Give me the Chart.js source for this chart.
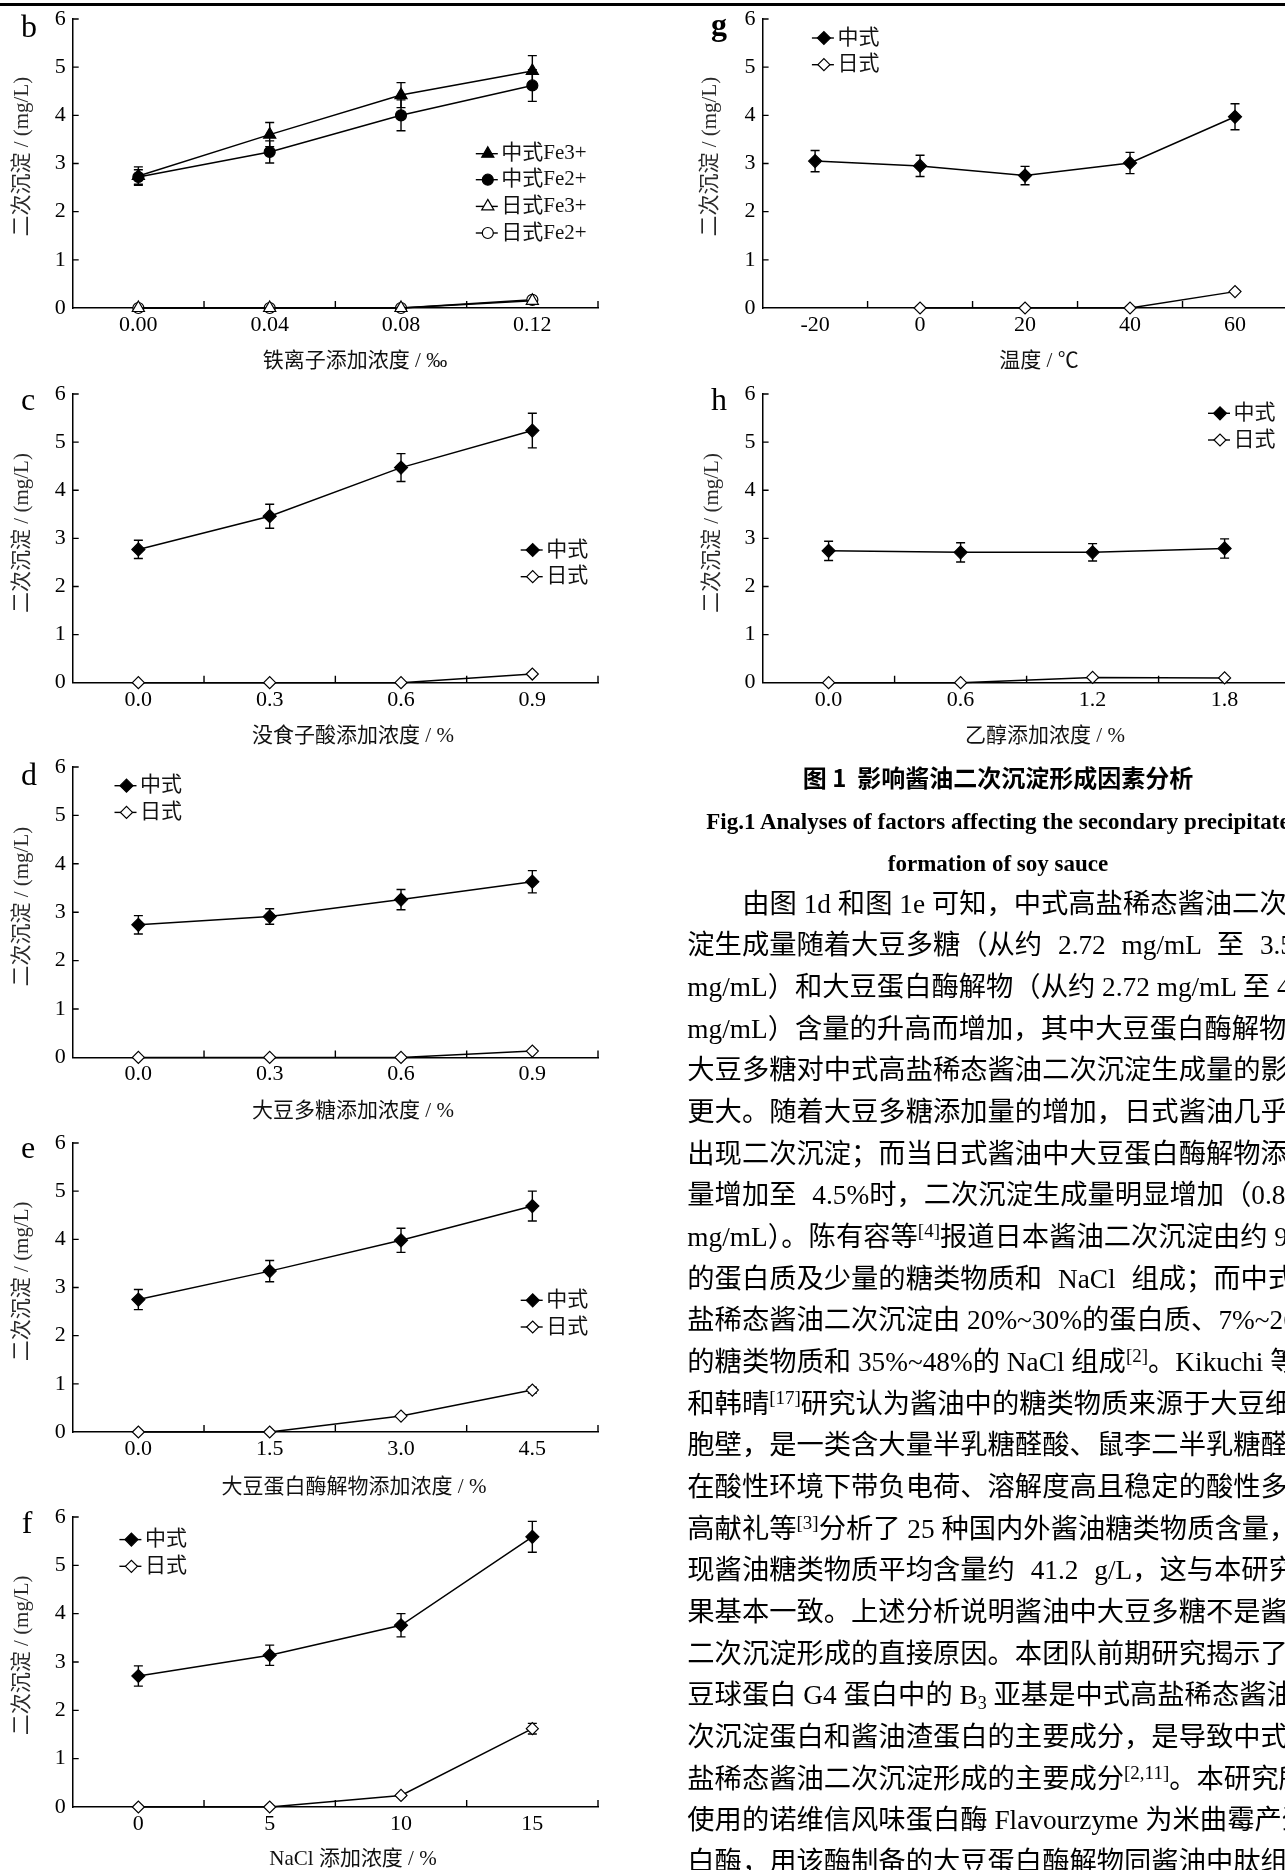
<!DOCTYPE html>
<html><head><meta charset="utf-8">
<script src="https://cdn.jsdelivr.net/npm/chart.js@4.4.0/dist/chart.umd.min.js"></script>
<style>
html,body{margin:0;padding:0;background:#fff;width:1285px;height:1870px;overflow:hidden;position:relative;}
canvas{position:absolute;}
.rule{position:absolute;left:0;top:3px;width:1285px;height:3px;background:#000;}
.tl{position:absolute;left:687.3px;white-space:nowrap;font-family:'Liberation Serif','Noto Sans CJK SC',serif;font-size:27.3px;line-height:41.67px;color:#000;}
.tl sup{font-size:19px;line-height:0;vertical-align:0.5em;}
.tl sub{font-size:18px;line-height:0;vertical-align:-0.3em;}
.cap{position:absolute;left:598px;width:800px;text-align:center;white-space:nowrap;color:#000;}
.cn{font-family:'Noto Sans CJK SC',sans-serif;font-size:24px;line-height:40px;font-weight:bold;}
.en{font-family:'Liberation Serif',serif;font-weight:bold;font-size:23px;line-height:40px;}
</style></head><body>
<div class="rule"></div>
<div id="charts"></div>

<div class="cap cn" style="top:757px;">图 1&nbsp;&nbsp;影响酱油二次沉淀形成因素分析</div>
<div class="cap en" style="top:802px;">Fig.1 Analyses of factors affecting the secondary precipitate</div>
<div class="cap en" style="top:843.6px;">formation of soy sauce</div>

<div class="tl" style="top:883.6px;left:742.3px;">由图 1d 和图 1e 可知，中式高盐稀态酱油二次沉</div>
<div class="tl" style="top:925.3px;word-spacing:9px;">淀生成量随着大豆多糖（从约 2.72 mg/mL 至 3.56</div>
<div class="tl" style="top:966.9px;">mg/mL）和大豆蛋白酶解物（从约 2.72 mg/mL 至 4.69</div>
<div class="tl" style="top:1008.6px;">mg/mL）含量的升高而增加，其中大豆蛋白酶解物比</div>
<div class="tl" style="top:1050.3px;">大豆多糖对中式高盐稀态酱油二次沉淀生成量的影响</div>
<div class="tl" style="top:1091.9px;">更大。随着大豆多糖添加量的增加，日式酱油几乎未</div>
<div class="tl" style="top:1133.6px;">出现二次沉淀；而当日式酱油中大豆蛋白酶解物添加</div>
<div class="tl" style="top:1175.3px;word-spacing:9px;">量增加至 4.5%时，二次沉淀生成量明显增加（0.87</div>
<div class="tl" style="top:1216.9px;">mg/mL）。陈有容等<sup>[4]</sup>报道日本酱油二次沉淀由约 90%</div>
<div class="tl" style="top:1258.6px;word-spacing:9px;">的蛋白质及少量的糖类物质和 NaCl 组成；而中式高</div>
<div class="tl" style="top:1300.3px;">盐稀态酱油二次沉淀由 20%~30%的蛋白质、7%~26%</div>
<div class="tl" style="top:1341.9px;">的糖类物质和 35%~48%的 NaCl 组成<sup>[2]</sup>。Kikuchi 等<sup>[16]</sup></div>
<div class="tl" style="top:1383.6px;">和韩晴<sup>[17]</sup>研究认为酱油中的糖类物质来源于大豆细</div>
<div class="tl" style="top:1425.3px;">胞壁，是一类含大量半乳糖醛酸、鼠李二半乳糖醛酸</div>
<div class="tl" style="top:1466.9px;">在酸性环境下带负电荷、溶解度高且稳定的酸性多糖。</div>
<div class="tl" style="top:1508.6px;">高献礼等<sup>[3]</sup>分析了 25 种国内外酱油糖类物质含量，发</div>
<div class="tl" style="top:1550.3px;word-spacing:9px;">现酱油糖类物质平均含量约 41.2 g/L，这与本研究结</div>
<div class="tl" style="top:1591.9px;">果基本一致。上述分析说明酱油中大豆多糖不是酱油</div>
<div class="tl" style="top:1633.6px;">二次沉淀形成的直接原因。本团队前期研究揭示了大</div>
<div class="tl" style="top:1675.3px;">豆球蛋白 G4 蛋白中的 B<sub>3</sub> 亚基是中式高盐稀态酱油二</div>
<div class="tl" style="top:1716.9px;">次沉淀蛋白和酱油渣蛋白的主要成分，是导致中式高</div>
<div class="tl" style="top:1758.6px;">盐稀态酱油二次沉淀形成的主要成分<sup>[2,11]</sup>。本研究所</div>
<div class="tl" style="top:1800.3px;">使用的诺维信风味蛋白酶 Flavourzyme 为米曲霉产蛋</div>
<div class="tl" style="top:1841.9px;">白酶，用该酶制备的大豆蛋白酶解物同酱油中肽组成</div>

<script>
// ---------------- DATA ----------------
const yTicks = [0, 1, 2, 3, 4, 5, 6];
const yAxisTitle = '二次沉淀 / (mg/L)';

const catsB = ['0.00', '0.04', '0.08', '0.12'];
const bChinaFe3 = [2.74, 3.60, 4.42, 4.92];
const bChinaFe3Err = [0.19, 0.25, 0.26, 0.32];
const bChinaFe2 = [2.72, 3.24, 4.00, 4.62];
const bChinaFe2Err = [0.15, 0.23, 0.32, 0.33];
const bJapanFe3 = [0, 0, 0, 0.15];
const bJapanFe2 = [0, 0, 0, 0.17];

const catsC = ['0.0', '0.3', '0.6', '0.9'];
const cChina = [2.77, 3.46, 4.47, 5.24];
const cChinaErr = [0.19, 0.25, 0.29, 0.36];
const cJapan = [0, 0, 0, 0.18];

const catsD = ['0.0', '0.3', '0.6', '0.9'];
const dChina = [2.74, 2.91, 3.26, 3.63];
const dChinaErr = [0.19, 0.16, 0.21, 0.23];
const dJapan = [0, 0, 0, 0.13];

const catsE = ['0.0', '1.5', '3.0', '4.5'];
const eChina = [2.75, 3.34, 3.98, 4.69];
const eChinaErr = [0.21, 0.22, 0.25, 0.31];
const eJapan = [0, 0, 0.33, 0.87];
const eJapanErr = [0, 0, 0.03, 0.06];

const catsF = ['0', '5', '10', '15'];
const fChina = [2.71, 3.14, 3.76, 5.59];
const fChinaErr = [0.21, 0.21, 0.24, 0.32];
const fJapan = [0, 0, 0.24, 1.62];
const fJapanErr = [0, 0, 0.03, 0.11];

const catsG = ['-20', '0', '20', '40', '60'];
const gChina = [3.05, 2.95, 2.75, 3.01, 3.97];
const gChinaErr = [0.22, 0.22, 0.19, 0.22, 0.27];
const gJapan = [null, 0, 0, 0, 0.34];

const catsH = ['0.0', '0.6', '1.2', '1.8'];
const hChina = [2.74, 2.71, 2.71, 2.79];
const hChinaErr = [0.20, 0.20, 0.18, 0.20];
const hJapan = [0, 0, 0.11, 0.10];

// ---------------- STYLES / LAYOUT ----------------
const FONT = "'Liberation Serif','Noto Sans CJK SC',serif";
const MK = {
  triF: {style: 'triangle', r: 7, fill: '#000'},
  cirF: {style: 'circle', r: 5.5, fill: '#000'},
  triO: {style: 'triangle', r: 7, fill: '#fff'},
  cirO: {style: 'circle', r: 5.5, fill: '#fff'},
  diaF: {style: 'diamond', r: 6.5, fill: '#000'},
  diaO: {style: 'diamond', r: 6, fill: '#fff'}
};

const panels = [
  {cx: 0, L: 72.7, T: 19.3, R: 598, B: 308.3, cats: catsB,
   series: [
     {label: '中式Fe3+', data: bChinaFe3, err: bChinaFe3Err, mk: MK.triF},
     {label: '中式Fe2+', data: bChinaFe2, err: bChinaFe2Err, mk: MK.cirF},
     {label: '日式Fe3+', data: bJapanFe3, err: null, mk: MK.triO},
     {label: '日式Fe2+', data: bJapanFe2, err: null, mk: MK.cirO}],
   legend: {mx: 487.8, ys: [154, 180, 206.7, 233.3]},
   letter: {t: 'b', x: 29, y: 37}, xTitle: {t: '铁离子添加浓度 / ‰', x: 355, y: 362}, yTitle: {x: 22, y: 157}},
  {cx: 0, L: 72.7, T: 394, R: 598, B: 682.7, cats: catsC,
   series: [
     {label: '中式', data: cChina, err: cChinaErr, mk: MK.diaF},
     {label: '日式', data: cJapan, err: null, mk: MK.diaO}],
   legend: {mx: 532.7, ys: [550, 576.7]},
   letter: {t: 'c', x: 28, y: 410}, xTitle: {t: '没食子酸添加浓度 / %', x: 353, y: 736.7}, yTitle: {x: 22, y: 533}},
  {cx: 0, L: 72.7, T: 767.3, R: 598, B: 1057.7, cats: catsD,
   series: [
     {label: '中式', data: dChina, err: dChinaErr, mk: MK.diaF},
     {label: '日式', data: dJapan, err: null, mk: MK.diaO}],
   legend: {mx: 126.5, ys: [786, 812.7]},
   letter: {t: 'd', x: 29, y: 785}, xTitle: {t: '大豆多糖添加浓度 / %', x: 353, y: 1111.7}, yTitle: {x: 22, y: 907}},
  {cx: 0, L: 72.7, T: 1142.7, R: 598, B: 1431.7, cats: catsE,
   series: [
     {label: '中式', data: eChina, err: eChinaErr, mk: MK.diaF},
     {label: '日式', data: eJapan, err: eJapanErr, mk: MK.diaO}],
   legend: {mx: 532.7, ys: [1300, 1326.7]},
   letter: {t: 'e', x: 28, y: 1158}, xTitle: {t: '大豆蛋白酶解物添加浓度 / %', x: 354, y: 1486.7}, yTitle: {x: 22, y: 1281}},
  {cx: 0, L: 72.7, T: 1516.7, R: 598, B: 1806.7, cats: catsF,
   series: [
     {label: '中式', data: fChina, err: fChinaErr, mk: MK.diaF},
     {label: '日式', data: fJapan, err: fJapanErr, mk: MK.diaO}],
   legend: {mx: 131.4, ys: [1539.3, 1566]},
   letter: {t: 'f', x: 27, y: 1533}, xTitle: {t: 'NaCl 添加浓度 / %', x: 353, y: 1859.3}, yTitle: {x: 22, y: 1655}},
  {cx: 695, L: 762.6, T: 19.3, R: 1287.5, B: 308.3, cats: catsG,
   series: [
     {label: '中式', data: gChina, err: gChinaErr, mk: MK.diaF},
     {label: '日式', data: gJapan, err: null, mk: MK.diaO}],
   legend: {mx: 823.9, ys: [38.3, 65]},
   letter: {t: 'g', x: 719, y: 35, bold: true}, xTitle: {t: '温度 / ℃', x: 1039, y: 362}, yTitle: {x: 710, y: 157}},
  {cx: 695, L: 762.6, T: 394, R: 1290.6, B: 682.7, cats: catsH,
   series: [
     {label: '中式', data: hChina, err: hChinaErr, mk: MK.diaF},
     {label: '日式', data: hJapan, err: null, mk: MK.diaO}],
   legend: {mx: 1220, ys: [413.3, 440]},
   letter: {t: 'h', x: 719, y: 410}, xTitle: {t: '乙醇添加浓度 / %', x: 1045, y: 736.7}, yTitle: {x: 712, y: 533}}
];

function drawMarker(ctx, mk, x, y) {
  const r = mk.r;
  ctx.save();
  ctx.beginPath();
  if (mk.style === 'circle') {
    ctx.arc(x, y, r, 0, Math.PI * 2);
  } else if (mk.style === 'triangle') {
    ctx.moveTo(x, y - r);
    ctx.lineTo(x + r * 0.866, y + r * 0.5);
    ctx.lineTo(x - r * 0.866, y + r * 0.5);
  } else {
    ctx.moveTo(x - r, y); ctx.lineTo(x, y - r); ctx.lineTo(x + r, y); ctx.lineTo(x, y + r);
  }
  ctx.closePath();
  ctx.fillStyle = mk.fill; ctx.fill();
  ctx.lineWidth = 1.2; ctx.strokeStyle = '#000'; ctx.stroke();
  ctx.restore();
}

function makeDecor(p, cy) {
  return {
    id: 'decor',
    beforeDatasetsDraw(chart) {
      const ctx = chart.ctx, xs = chart.scales.x, ys = chart.scales.y;
      ctx.save();
      ctx.strokeStyle = '#000'; ctx.lineWidth = 1.4;
      chart.data.datasets.forEach(ds => {
        if (!ds.errors) return;
        ds.data.forEach((v, j) => {
          const e = ds.errors[j];
          if (v == null || !e) return;
          const x = xs.getPixelForValue(j);
          const y1 = ys.getPixelForValue(v + e), y2 = ys.getPixelForValue(v - e);
          ctx.beginPath();
          ctx.moveTo(x, y1); ctx.lineTo(x, y2);
          ctx.moveTo(x - 4.5, y1); ctx.lineTo(x + 4.5, y1);
          ctx.moveTo(x - 4.5, y2); ctx.lineTo(x + 4.5, y2);
          ctx.stroke();
        });
      });
      ctx.restore();
    },
    afterDraw(chart) {
      const ctx = chart.ctx, xs = chart.scales.x, ys = chart.scales.y, a = chart.chartArea;
      const ox = p.cx, oy = cy;
      ctx.save();
      // inward tick marks
      ctx.strokeStyle = '#000'; ctx.lineWidth = 1.4;
      const n = p.cats.length;
      const half = (xs.getPixelForValue(1) - xs.getPixelForValue(0)) / 2;
      ctx.beginPath();
      for (let j = 0; j < n; j++) {
        const px = xs.getPixelForValue(j) + half;
        ctx.moveTo(px, a.bottom); ctx.lineTo(px, a.bottom - 7);
      }
      yTicks.forEach(v => {
        if (v === 0) return;
        const py = ys.getPixelForValue(v);
        ctx.moveTo(a.left, py); ctx.lineTo(a.left + 6, py);
      });
      ctx.stroke();
      // panel letter
      ctx.fillStyle = '#000';
      ctx.textAlign = 'center'; ctx.textBaseline = 'alphabetic';
      ctx.font = (p.letter.bold ? 'bold ' : '') + "32px 'Liberation Serif',serif";
      ctx.fillText(p.letter.t, p.letter.x - ox, p.letter.y - oy);
      // x title
      ctx.font = '21px ' + FONT;
      ctx.textBaseline = 'middle';
      ctx.fillStyle = '#111';
      ctx.fillText(p.xTitle.t, p.xTitle.x - ox, p.xTitle.y - oy);
      // y title
      ctx.save();
      ctx.fillStyle = '#2a2a2a';
      ctx.translate(p.yTitle.x - ox, p.yTitle.y - oy);
      ctx.rotate(-Math.PI / 2);
      ctx.fillText(yAxisTitle, 0, 0);
      ctx.restore();
      // legend
      ctx.textAlign = 'left';
      ctx.font = '21px ' + FONT;
      p.series.forEach((s, i) => {
        const y = p.legend.ys[i] - oy, mx = p.legend.mx - ox;
        ctx.beginPath();
        ctx.lineWidth = 1.4; ctx.strokeStyle = '#000';
        ctx.moveTo(mx - 12, y); ctx.lineTo(mx + 10, y); ctx.stroke();
        drawMarker(ctx, s.mk, mx, y);
        ctx.fillStyle = '#111';
        ctx.fillText(s.label, mx + 13.5, y);
      });
      ctx.restore();
    }
  };
}

const host = document.getElementById('charts');
panels.forEach(p => {
  const cy = p.T - 22;
  const cw = Math.ceil(p.R + 12 - p.cx);
  const ch = Math.ceil(p.B + 74 - cy);
  const cv = document.createElement('canvas');
  cv.width = cw; cv.height = ch;
  cv.style.left = p.cx + 'px'; cv.style.top = cy + 'px';
  cv.style.width = cw + 'px'; cv.style.height = ch + 'px';
  host.appendChild(cv);
  const tickFont = {family: FONT, size: 22, lineHeight: 1.2};
  new Chart(cv.getContext('2d'), {
    type: 'line',
    data: {
      labels: p.cats,
      datasets: p.series.map(s => ({
        label: s.label,
        data: s.data,
        errors: s.err,
        borderColor: '#000',
        borderWidth: 1.5,
        pointStyle: s.mk.style === 'diamond' ? 'rectRot' : s.mk.style,
        pointRadius: s.mk.r,
        pointHoverRadius: s.mk.r,
        pointBackgroundColor: s.mk.fill,
        pointBorderColor: '#000',
        pointBorderWidth: 1.2,
        fill: false,
        tension: 0,
        spanGaps: false,
        clip: false
      }))
    },
    options: {
      responsive: false,
      animation: false,
      devicePixelRatio: 1,
      events: [],
      layout: {padding: {top: p.T - cy, right: p.cx + cw - p.R, bottom: 0, left: 0}},
      plugins: {legend: {display: false}, tooltip: {enabled: false}},
      scales: {
        x: {
          type: 'category', offset: true,
          grid: {display: true, drawOnChartArea: false, drawTicks: false, offset: true},
          border: {display: true, color: '#000', width: 1.5},
          ticks: {color: '#000', font: tickFont, padding: 4, maxRotation: 0, autoSkip: false},
          afterFit: s => { s.height = cy + ch - p.B; }
        },
        y: {
          type: 'linear', min: 0, max: 6,
          afterBuildTicks: s => { s.ticks = yTicks.map(v => ({value: v})); },
          grid: {display: true, drawOnChartArea: false, drawTicks: false},
          border: {display: true, color: '#000', width: 1.5},
          ticks: {color: '#000', font: tickFont, padding: 7},
          afterFit: s => { s.width = p.L - p.cx; }
        }
      }
    },
    plugins: [makeDecor(p, cy)]
  });
});
</script>
</body></html>
